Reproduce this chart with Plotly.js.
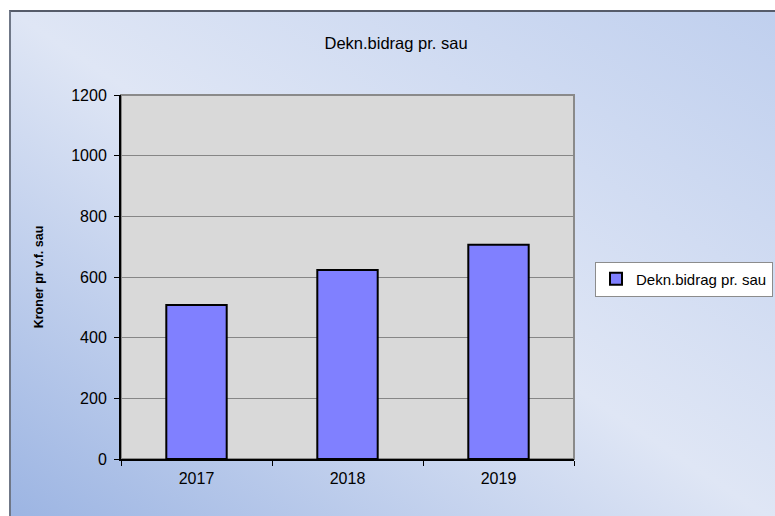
<!DOCTYPE html>
<html>
<head>
<meta charset="utf-8">
<script src="https://cdn.plot.ly/plotly-3.0.1.min.js"></script>
<style>
  html, body { margin: 0; padding: 0; background: #ffffff; width: 775px; height: 516px; overflow: hidden; }
  #bg {
    position: absolute; left: 9px; top: 10px; width: 780px; height: 520px;
    border-top: 2px solid #565c6a; border-left: 2px solid #6f7787;
    background: linear-gradient(to top right, #9ab3e2 0%, #dfe6f5 50%, #bfcfee 100%);
  }
  #chart { position: absolute; left: 0; top: 0; width: 775px; height: 516px; }
</style>
</head>
<body>
<div id="bg"></div>
<div id="chart"></div>
<script>
const chartTitle = "Dekn.bidrag pr. sau";
const yAxisTitle = "Kroner pr v.f. sau";
const seriesName = "Dekn.bidrag pr. sau";
const years = ["2017", "2018", "2019"];
const values = [508, 623, 706];
const yTicks = [0, 200, 400, 600, 800, 1000, 1200];

const font = "Liberation Sans, Arial, sans-serif";

const trace = {
  type: "bar",
  x: years,
  y: values,
  name: seriesName,
  marker: { color: "#8080ff", line: { color: "#000000", width: 2 } },
  showlegend: true,
  hoverinfo: "x+y"
};

const layout = {
  width: 775,
  height: 516,
  paper_bgcolor: "rgba(0,0,0,0)",
  plot_bgcolor: "#d9d9d9",
  margin: { l: 121, r: 201, t: 95, b: 57, pad: 0, autoexpand: false },
  font: { family: font, size: 15, color: "#000000" },
  title: {
    text: chartTitle,
    font: { family: font, size: 16.5, color: "#000000" },
    x: 0.511, xref: "container", xanchor: "center",
    y: 0.917, yref: "container", yanchor: "middle"
  },
  bargap: 0.6,
  showlegend: true,
  legend: {
    x: 1.4393, xanchor: "right",
    y: 0.4945, yanchor: "middle",
    bgcolor: "#ffffff",
    bordercolor: "#8c8c8c",
    borderwidth: 1,
    font: { family: font, size: 15, color: "#000000" },
    itemwidth: 30
  },
  xaxis: {
    type: "category",
    showline: true, linecolor: "#000000", linewidth: 2,
    ticks: "outside", tickson: "boundaries", ticklen: 5, tickcolor: "#000000", tickwidth: 1,
    ticklabelstandoff: 4,
    showgrid: false, zeroline: false,
    tickfont: { family: font, size: 16, color: "#000000" },
    fixedrange: true
  },
  yaxis: {
    range: [0, 1200],
    tickvals: yTicks,
    ticktext: yTicks.map(String),
    showline: true, linecolor: "#000000", linewidth: 2,
    ticks: "outside", ticklen: 5, tickcolor: "#000000", tickwidth: 1,
    ticklabelstandoff: 4,
    showgrid: true, gridcolor: "#868686", gridwidth: 1,
    zeroline: false,
    tickfont: { family: font, size: 16, color: "#000000" },
    title: { text: yAxisTitle, font: { family: font, size: 12.5, color: "#000000", weight: "bold" }, standoff: 25 },
    fixedrange: true
  },
  shapes: [
    { type: "rect", xref: "paper", yref: "paper", x0: 0, x1: 1, y0: 0, y1: 1,
      line: { color: "#8a8a8a", width: 2 }, layer: "below" }
  ]
};

Plotly.newPlot("chart", [trace], layout, { displayModeBar: false, staticPlot: false });
</script>
</body>
</html>
